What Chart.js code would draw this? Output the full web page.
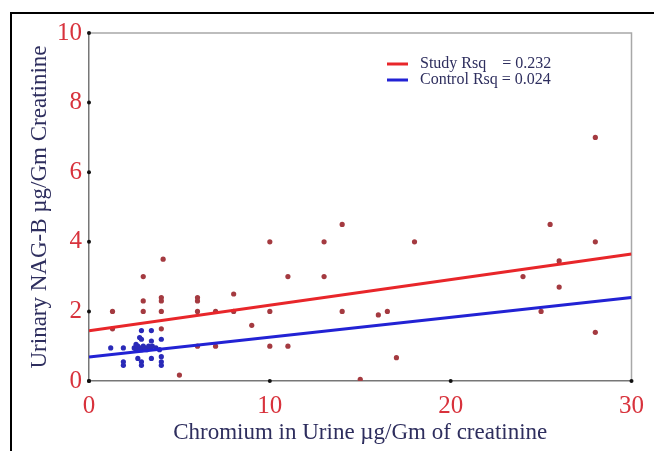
<!DOCTYPE html>
<html>
<head>
<meta charset="utf-8">
<script src="https://cdn.jsdelivr.net/npm/chart.js@4.4.0/dist/chart.umd.min.js"></script>
<style>
  html, body { margin: 0; padding: 0; background: #fff; }
  #wrap { width: 654px; height: 451px; position: relative; }
</style>
</head>
<body>
<div id="wrap"><canvas id="chart" width="654" height="451"></canvas></div>
<script>
'use strict';

// study group points (chromium, NAG-B)
const studyX = [1.3, 1.3, 3.0, 3.0, 3.0, 4.1, 4.0, 4.0, 4.0, 4.0, 5.0, 6.0, 6.0, 6.0, 6.0, 7.0, 7.0, 8.0, 8.0, 9.0,
  10.0, 10.0, 10.0, 11.0, 11.0, 13.0, 13.0, 14.0, 14.0, 15.0, 16.0, 16.5, 17.0, 18.0, 24.0, 25.0, 25.5, 26.0, 26.0, 28.0, 28.0, 28.0];
const studyY = [2.0, 1.5, 3.0, 2.3, 2.0, 3.5, 2.4, 2.3, 2.0, 1.5, 0.17, 2.4, 2.3, 2.0, 1.0, 2.0, 1.0, 2.5, 2.0, 1.6,
  4.0, 2.0, 1.0, 3.0, 1.0, 4.0, 3.0, 4.5, 2.0, 0.05, 1.9, 2.0, 0.67, 4.0, 3.0, 2.0, 4.5, 3.45, 2.7, 7.0, 4.0, 1.4];

// control group points
const controlX = [1.2, 1.9, 1.9, 1.9, 2.5, 2.6, 2.7, 2.8, 2.9, 3.0, 3.1, 3.2, 3.3, 3.4, 3.5, 3.7, 3.9, 2.6,
  2.9, 3.45, 2.8, 2.9, 3.45, 4.0, 2.7, 2.9, 2.9, 3.45, 4.0, 4.0, 4.0];
const controlY = [0.95, 0.95, 0.55, 0.45, 0.95, 0.9, 1.0, 0.95, 0.9, 1.0, 0.95, 0.9, 1.0, 0.95, 1.0, 0.95, 0.9, 1.05,
  1.45, 1.45, 1.25, 1.2, 1.15, 1.2, 0.65, 0.55, 0.45, 0.65, 0.7, 0.55, 0.45];

// fitted lines, endpoints at x = 0 and x = 30
const fitX = [0, 30];
const studyFitY = [1.44, 3.65];
const controlFitY = [0.69, 2.40];

const legendLabels = ['Study Rsq    = 0.232', 'Control Rsq = 0.024'];
const xTicks = [0, 10, 20, 30];
const yTicks = [0, 2, 4, 6, 8, 10];

function toPoints(xs, ys) {
  return xs.map((x, i) => ({ x: x, y: ys[i] }));
}

const serif = '"Liberation Serif", "DejaVu Serif", serif';
const tickRed = '#d8323c';
const titleNavy = '#2e2e5e';

// outer frame, plot box and the little legend
const framePlugin = {
  id: 'frame',
  beforeDraw(chart) {
    const c = chart.ctx;
    c.save();
    c.fillStyle = '#fff';
    c.fillRect(0, 0, chart.width, chart.height);
    c.strokeStyle = '#000';
    c.lineWidth = 2;
    c.beginPath();
    c.moveTo(11, chart.height);
    c.lineTo(11, 13);
    c.lineTo(chart.width, 13);
    c.stroke();
    const a = chart.chartArea;
    c.strokeStyle = '#a8a8a8';
    c.lineWidth = 1.5;
    c.beginPath();
    c.moveTo(a.left, a.top);
    c.lineTo(a.right, a.top);
    c.lineTo(a.right, a.bottom);
    c.stroke();
    c.restore();
  },
  afterDraw(chart) {
    const c = chart.ctx;
    const a = chart.chartArea;
    c.save();
    // tick dots
    c.fillStyle = '#111';
    const xs = chart.scales.x, ys = chart.scales.y;
    xTicks.forEach((t) => {
      c.beginPath();
      c.arc(xs.getPixelForValue(t), a.bottom, 2, 0, Math.PI * 2);
      c.fill();
    });
    yTicks.forEach((t) => {
      c.beginPath();
      c.arc(a.left, ys.getPixelForValue(t), 2, 0, Math.PI * 2);
      c.fill();
    });
    // legend
    const lx = 387, ly = 64;
    const colors = ['#e8262a', '#2222d4'];
    c.font = '16px ' + serif;
    c.textBaseline = 'middle';
    legendLabels.forEach((lab, i) => {
      const y = ly + i * 16;
      c.strokeStyle = colors[i];
      c.lineWidth = 3;
      c.beginPath();
      c.moveTo(lx, y);
      c.lineTo(lx + 21, y);
      c.stroke();
      c.fillStyle = titleNavy;
      c.fillText(lab, lx + 33, y);
    });
    c.restore();
  }
};

new Chart(document.getElementById('chart').getContext('2d'), {
  type: 'scatter',
  data: {
    datasets: [
      {
        label: 'Study',
        data: toPoints(studyX, studyY),
        pointRadius: 2.6,
        pointBackgroundColor: '#a43a40',
        pointBorderWidth: 0,
        order: 3,
      },
      {
        label: 'Control',
        data: toPoints(controlX, controlY),
        pointRadius: 2.6,
        pointBackgroundColor: '#2a2ab8',
        pointBorderWidth: 0,
        order: 2,
      },
      {
        type: 'line',
        label: 'Study fit',
        data: toPoints(fitX, studyFitY),
        borderColor: '#e8262a',
        borderWidth: 3,
        pointRadius: 0,
        order: 1,
      },
      {
        type: 'line',
        label: 'Control fit',
        data: toPoints(fitX, controlFitY),
        borderColor: '#2222d4',
        borderWidth: 3,
        pointRadius: 0,
        order: 0,
      },
    ],
  },
  options: {
    responsive: false,
    animation: false,
    layout: { padding: { left: 26, top: 33, right: 15, bottom: 0 } },
    plugins: {
      legend: { display: false },
      tooltip: { enabled: false },
    },
    scales: {
      x: {
        type: 'linear',
        min: 0,
        max: 30,
        afterBuildTicks: (axis) => { axis.ticks = xTicks.map((v) => ({ value: v })); },
        afterFit: (axis) => { axis.height = 70; },
        grid: { display: false, drawTicks: false },
        border: { color: '#777', width: 1.5 },
        ticks: {
          color: tickRed,
          font: { family: serif, size: 25 },
          padding: 10,
          maxRotation: 0,
        },
        title: {
          display: true,
          text: 'Chromium in Urine µg/Gm of creatinine',
          color: titleNavy,
          font: { family: serif, size: 23 },
          padding: { top: 0, bottom: 4 },
        },
      },
      y: {
        type: 'linear',
        min: 0,
        max: 10,
        afterBuildTicks: (axis) => { axis.ticks = yTicks.map((v) => ({ value: v })); },
        afterFit: (axis) => { axis.width = 63; },
        grid: { display: false, drawTicks: false },
        border: { color: '#777', width: 1.5 },
        ticks: {
          color: tickRed,
          font: { family: serif, size: 25 },
          padding: 7,
        },
        title: {
          display: true,
          text: 'Urinary NAG-B µg/Gm Creatinine',
          color: titleNavy,
          font: { family: serif, size: 23 },
          padding: { top: 0, bottom: 2 },
        },
      },
    },
  },
  plugins: [framePlugin],
});
</script>
</body>
</html>
